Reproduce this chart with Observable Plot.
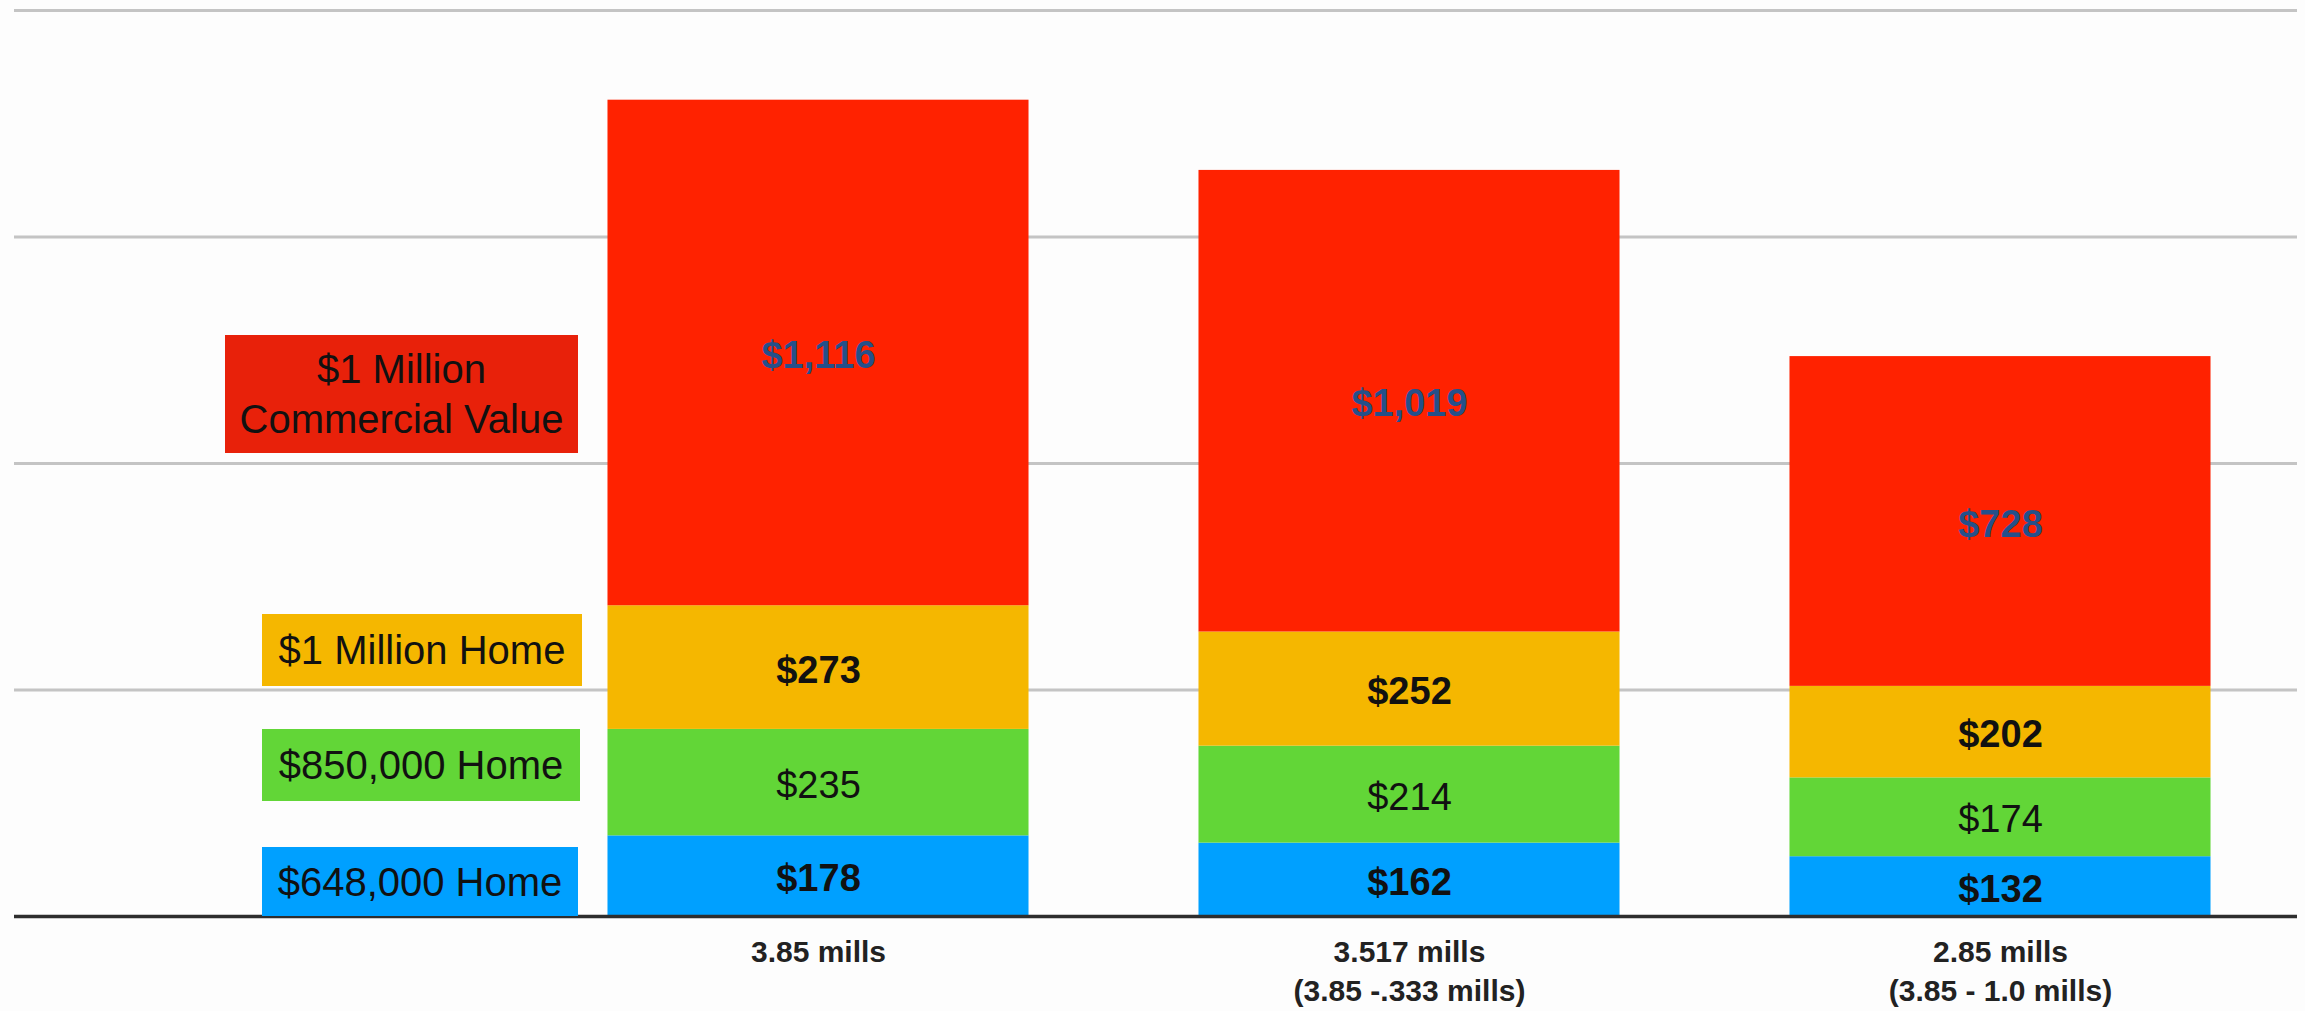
<!DOCTYPE html>
<html>
<head>
<meta charset="utf-8">
<script src="https://cdn.jsdelivr.net/npm/d3@7"></script>
<script src="https://cdn.jsdelivr.net/npm/@observablehq/plot@0.6"></script>
<style>
  html, body { margin: 0; padding: 0; background: #fdfdfd; }
  #wrap { position: relative; width: 2305px; height: 1011px; font-family: "Liberation Sans", Arial, Helvetica, sans-serif; }
  #chart svg { display: block; }
  .lg { position: absolute; display: flex; align-items: center; justify-content: center; text-align: center;
        font-size: 40px; line-height: 50px; color: #111; box-sizing: border-box; }
</style>
</head>
<body>
<div id="wrap">
  <div id="chart"></div>
  <div id="legend"></div>
</div>
<script>
// ---- data ----
const categories = ["3.85 mills", "3.517 mills\n(3.85 -.333 mills)", "2.85 mills\n(3.85 - 1.0 mills)"];
const seriesNames = ["$648,000 Home", "$850,000 Home", "$1 Million Home", "$1 Million Commercial Value"];
const home648 = [178, 162, 132];
const home850 = [235, 214, 174];
const home1m = [273, 252, 202];
const commercial1m = [1116, 1019, 728];
const gridTicks = [500, 1000, 1500, 2000];
const seriesColors = ["#00a0ff", "#62d637", "#f5b700", "#ff2200"];
const legendColors = ["#00a0ff", "#62d637", "#f5b700", "#e8210a"];
const legendText = ["$648,000 Home", "$850,000 Home", "$1 Million Home", "$1 Million<br>Commercial Value"];

const seriesValues = [home648, home850, home1m, commercial1m];
const data = categories.flatMap((c, i) =>
  seriesNames.map((s, j) => ({cat: c, series: s, value: seriesValues[j][i]})));

const fmt = d3.format("$,d");
const textStyles = [
  {fill: "#111", fontWeight: "bold"},
  {fill: "#111", fontWeight: "normal"},
  {fill: "#111", fontWeight: "bold"},
  {fill: "#25508a", fontWeight: "bold"}
];

const textMarks = seriesNames.map((s, j) =>
  Plot.text(data, Plot.stackY({
    x: "cat", y: "value", z: "series",
    text: d => d.series === s ? fmt(d.value) : null,
    fontSize: 38,
    dy: 3,
    fill: textStyles[j].fill,
    fontWeight: textStyles[j].fontWeight
  })));

const chart = Plot.plot({
  width: 2305,
  height: 1011,
  marginTop: 10,
  marginBottom: 95,
  marginLeft: 14,
  marginRight: 8,
  style: {background: "transparent", fontFamily: "'Liberation Sans', Arial, Helvetica, sans-serif"},
  x: {domain: categories, range: [522.5, 2295.5], paddingInner: 0.2876, paddingOuter: 0.1438, round: false, label: null, axis: null},
  y: {domain: [0, 2000], axis: null},
  color: {domain: seriesNames, range: seriesColors},
  marks: [
    Plot.ruleY(gridTicks, {stroke: "#c4c4c4", strokeWidth: 3}),
    Plot.barY(data, {x: "cat", y: "value", z: "series", fill: "series"}),
    Plot.ruleY([0], {stroke: "#2e2e2e", strokeWidth: 3.5}),
    ...textMarks,
    Plot.axisX({tickSize: 0, tickPadding: 18, fontSize: 30, fontWeight: "bold", lineHeight: 1.3, fill: "#222", label: null})
  ]
});
document.getElementById("chart").appendChild(chart);

// ---- legend (boxes at the left of the plot) ----
const legendBoxes = [
  {left: 262, top: 847, w: 316, h: 69},
  {left: 262, top: 729, w: 318, h: 72},
  {left: 262, top: 614, w: 320, h: 72},
  {left: 225, top: 335, w: 353, h: 118}
];
const lg = document.getElementById("legend");
legendBoxes.forEach((b, j) => {
  const d = document.createElement("div");
  d.className = "lg";
  d.style.left = b.left + "px";
  d.style.top = b.top + "px";
  d.style.width = b.w + "px";
  d.style.height = b.h + "px";
  d.style.background = legendColors[j];
  d.innerHTML = legendText[j];
  lg.appendChild(d);
});
</script>
</body>
</html>
